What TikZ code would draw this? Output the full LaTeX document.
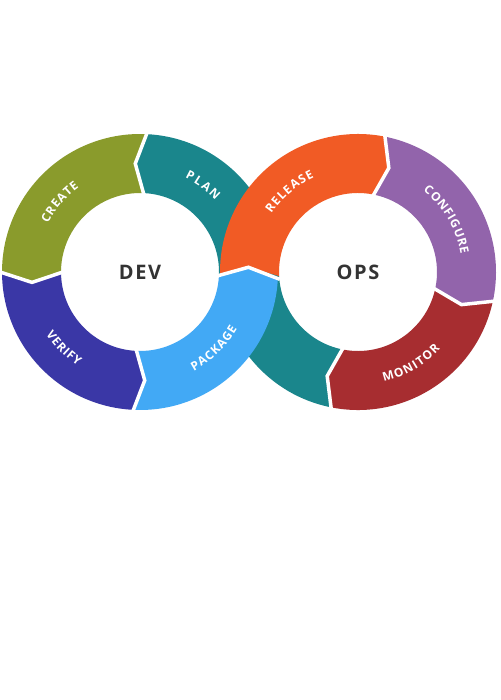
\documentclass[tikz,border=0pt]{standalone}
\usepackage{fontspec}
\setsansfont{Open Sans}
\newfontfamily\hubfont{Open Sans}[LetterSpace=8]
\newfontfamily\labelfont{Open Sans}
\usetikzlibrary{decorations.text}

\definecolor{plancol}{HTML}{1A868C}
\definecolor{createcol}{HTML}{8A9B2C}
\definecolor{verifycol}{HTML}{3A37A6}
\definecolor{packagecol}{HTML}{42A9F5}
\definecolor{releasecol}{HTML}{F15B25}
\definecolor{configcol}{HTML}{9264AB}
\definecolor{monitorcol}{HTML}{A72D30}
\definecolor{hubtext}{HTML}{333333}

% one ring piece: colour, tail angle, front angle, direction (+1 ccw, -1 cw)
\newcommand{\ringseg}[4]{%
  \fill[#1] (#2:138) arc[start angle=#2, end angle=#3, radius=138]
    -- ({#3+(#4)*5.5}:108.5) -- (#3:79)
    arc[start angle=#3, end angle=#2, radius=79]
    -- ({#2+(#4)*5.5}:108.5) -- cycle;}
% white cut at the head of a piece
\newcommand{\ringgap}[2]{%
  \draw[gap] (#1:140) -- ({#1+(#2)*5.5}:108.5) -- (#1:77);}

\tikzset{
  gap/.style={white, line width=3.5pt, line join=miter},
  hub/.style={font=\hubfont\bfseries\fontsize{20}{24}\selectfont, text=hubtext},
  arclabel/.style={decorate, decoration={text along path, text align=fit to path,
      text color=white, text={|\labelfont\bfseries\fontsize{12}{14}\selectfont|#1}}},
}

\begin{document}
\begin{tikzpicture}[x=1pt,y=1pt]
  \fill[white] (0,0) rectangle (500,700);
  \useasboundingbox (0,0) rectangle (500,700);
  \coordinate (dev) at (140,428);
  \coordinate (ops) at (358,428);

  % teal band that runs under the crossing
  \begin{scope}[shift={(dev)}]
    \ringseg{plancol}{-3}{87}{1}
  \end{scope}
  \begin{scope}[shift={(ops)}]
    \ringseg{plancol}{259}{183}{-1}
  \end{scope}

  % dev ring
  \begin{scope}[shift={(dev)}]
    \ringseg{createcol}{87}{180}{1}
    \ringseg{verifycol}{180}{267}{1}
  \end{scope}
  % ops ring
  \begin{scope}[shift={(ops)}]
    \ringseg{configcol}{79}{-12}{-1}
    \ringseg{monitorcol}{-12}{-101}{-1}
    \ringseg{releasecol}{183}{79}{-1}
    \ringgap{79}{-1}
    \ringgap{-12}{-1}
    \ringgap{-101}{-1}
  \end{scope}
  \begin{scope}[shift={(dev)}]
    \ringseg{packagecol}{267}{357}{1}
    \ringgap{87}{1}
    \ringgap{180}{1}
    \ringgap{267}{1}
    \ringgap{-3}{1}
  \end{scope}

  % labels
  \begin{scope}[shift={(dev)}]
    \path[arclabel=CREATE] (152.2:104.2) arc[start angle=152.2, end angle=125.8, radius=104.2];
    \path[arclabel=PLAN] (64.4:104.2) arc[start angle=64.4, end angle=43.6, radius=104.2];
    \path[arclabel=VERIFY] (213.5:112.8) arc[start angle=213.5, end angle=236.5, radius=112.8];
    \path[arclabel=PACKAGE] (-61.5:112.8) arc[start angle=-61.5, end angle=-30.5, radius=112.8];
  \end{scope}
  \begin{scope}[shift={(ops)}]
    \path[arclabel=RELEASE] (146.1:104.2) arc[start angle=146.1, end angle=114.9, radius=104.2];
    \path[arclabel=CONFIGURE] (51.3:104.2) arc[start angle=51.3, end angle=9.7, radius=104.2];
    \path[arclabel=MONITOR] (-76.8:112.8) arc[start angle=-76.8, end angle=-43.2, radius=112.8];
  \end{scope}

  \node[hub] (devhub) at (dev) {DEV};
  \node[hub] (opshub) at (ops) {OPS};
\end{tikzpicture}
\end{document}
